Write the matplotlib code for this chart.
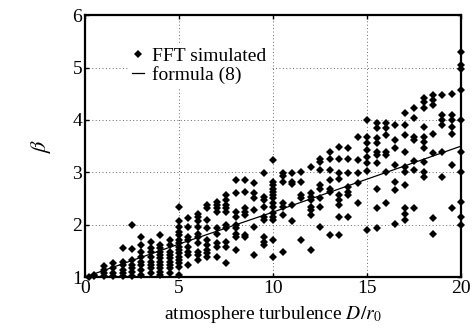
import numpy as np
import matplotlib.pyplot as plt

# ---------------- DATA ----------------
# FFT simulated beta values, one list per D/r0 column
sim_cols = {
    0.2: [1.00],
    0.5: [1.04, 1.01],
    1.0: [1.21, 1.13, 1.07, 1.01],
    1.5: [1.26, 1.17, 1.07, 1.01],
    2.0: [1.55, 1.29, 1.23, 1.13, 1.07, 1.01],
    2.5: [1.99, 1.53, 1.32, 1.23, 1.17, 1.10, 1.01],
    3.0: [1.77, 1.61, 1.48, 1.39, 1.29, 1.23, 1.13, 1.04],
    3.5: [1.67, 1.55, 1.48, 1.39, 1.29, 1.23, 1.17, 1.07],
    4.0: [1.80, 1.61, 1.55, 1.48, 1.42, 1.36, 1.29, 1.23, 1.17, 1.10, 1.04],
    4.5: [1.71, 1.61, 1.48, 1.42, 1.36, 1.29, 1.23, 1.17, 1.07],
    5.0: [2.34, 2.06, 1.96, 1.86, 1.80, 1.71, 1.64, 1.58, 1.52, 1.45,
          1.39, 1.33, 1.26, 1.20, 1.04],
    5.5: [2.12, 1.96, 1.77, 1.71, 1.58, 1.48, 1.42, 1.23],
    6.0: [2.21, 2.14, 2.06, 1.96, 1.83, 1.77, 1.64, 1.48, 1.42, 1.33],
    6.5: [2.37, 2.31, 2.09, 1.93, 1.71, 1.61, 1.52, 1.45, 1.39],
    7.0: [2.44, 2.37, 2.31, 2.25, 1.93, 1.83, 1.64, 1.58, 1.39],
    7.5: [2.56, 2.47, 2.37, 2.31, 2.25, 1.99, 1.93, 1.67, 1.58, 1.26],
    8.0: [2.85, 2.60, 2.25, 2.15, 1.99, 1.93, 1.83, 1.77, 1.52],
    8.5: [2.85, 2.63, 2.31, 2.25, 2.18, 1.80, 1.77],
    9.0: [2.79, 2.60, 2.50, 2.28, 1.96, 1.42],
    9.5: [2.98, 2.53, 2.47, 2.34, 2.15, 2.09, 1.77, 1.67, 1.61],
    10.0: [3.23, 2.82, 2.76, 2.69, 2.63, 2.56, 2.50, 2.41, 2.34, 2.22,
           2.15, 2.09, 1.71, 1.39],
    10.5: [2.98, 2.92, 2.82, 2.41, 2.34, 2.18, 1.48],
    11.0: [2.98, 2.82, 2.78, 2.37, 2.06],
    11.5: [3.01, 2.82, 2.56, 2.50, 1.71],
    12.0: [3.11, 2.60, 2.53, 2.47, 2.34, 2.28, 2.18, 1.52],
    12.5: [3.26, 3.20, 3.04, 2.76, 2.69, 2.50, 2.34, 1.96],
    13.0: [3.39, 3.26, 3.04, 2.85, 2.69, 2.63, 1.80],
    13.5: [3.49, 3.26, 2.98, 2.88, 2.56, 2.47, 2.37, 2.15, 1.80],
    14.0: [3.46, 3.26, 2.98, 2.72, 2.63, 2.56, 2.15],
    14.5: [3.68, 3.23, 2.98, 2.79, 2.41],
    15.0: [4.00, 3.68, 3.55, 3.42, 3.30, 3.17, 3.02, 1.90],
    15.5: [3.95, 3.84, 3.66, 3.55, 3.39, 3.33, 3.17, 2.69, 2.31, 1.93],
    16.0: [3.95, 3.84, 3.71, 3.39, 3.33, 3.01, 2.41],
    16.5: [3.91, 3.61, 3.46, 3.14, 2.82, 2.66, 2.02],
    17.0: [4.14, 3.91, 3.72, 3.38, 3.11, 3.01, 2.76, 2.31, 2.20, 2.09],
    17.5: [4.22, 4.04, 3.68, 3.61, 3.22, 3.04, 2.31],
    18.0: [4.42, 4.35, 4.22, 3.87, 3.68, 3.58, 3.46, 3.20, 3.01, 2.91],
    18.5: [4.47, 4.38, 4.28, 3.74, 3.36, 2.12, 1.83],
    19.0: [4.47, 4.09, 4.00, 3.90, 3.39, 2.91],
    19.5: [4.49, 4.09, 4.00, 3.87, 3.74, 3.14, 2.31],
    20.0: [5.30, 5.05, 4.98, 4.57, 4.00, 3.39, 3.01, 2.44, 2.15, 1.99],
}

# formula (8) curve
d_line = [0, 5, 10, 15, 20]
beta_line = [1.0, 1.63, 2.24, 2.87, 3.5]

x_ticks = [0, 5, 10, 15, 20]
y_ticks = [1, 2, 3, 4, 5, 6]
# --------------------------------------

sim_x = []
sim_y = []
for d, vals in sim_cols.items():
    for v in vals:
        sim_x.append(d)
        sim_y.append(v)

plt.rcParams['font.family'] = ['Liberation Serif', 'DejaVu Serif']
plt.rcParams['mathtext.fontset'] = 'stix'

fig = plt.figure(figsize=(4.75, 3.29), dpi=100)
ax = fig.add_axes([0.179, 0.158, 0.792, 0.796])

ax.plot(sim_x, sim_y, linestyle='none', marker='D', markersize=4.2,
        color='black', markeredgewidth=0, label='FFT simulated', clip_on=False)
ax.plot(d_line, beta_line, color='black', linewidth=0.9, label='formula (8)')

ax.set_xlim(0, 20)
ax.set_ylim(1, 6)
ax.set_xticks(x_ticks)
ax.set_yticks(y_ticks)
ax.grid(True, linestyle=(0, (1, 2.5)), color='#666666', linewidth=0.7)
ax.tick_params(direction='in', top=True, right=True, labelsize=14,
               length=3, width=1, pad=2)
for s in ax.spines.values():
    s.set_linewidth(1.6)

ax.set_xlabel('atmosphere turbulence $D/r_0$', fontsize=14, labelpad=5)
ax.set_ylabel(r'$\beta$', fontsize=16, labelpad=14)

leg = ax.legend(loc='upper left', bbox_to_anchor=(0.09, 0.93), frameon=True,
                fontsize=14, handlelength=0.6, handletextpad=0.4,
                labelspacing=0.05, borderpad=0.2, markerscale=1.0)
leg.get_frame().set_edgecolor('none')
leg.get_frame().set_facecolor('white')
leg.get_frame().set_alpha(1)

plt.savefig('out.png', dpi=100)
